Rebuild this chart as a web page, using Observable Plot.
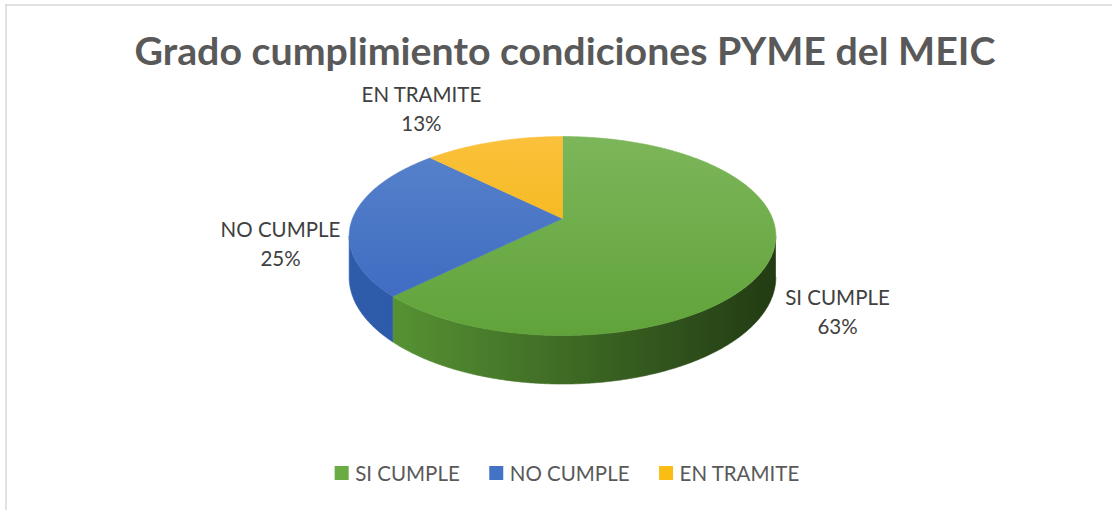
<!DOCTYPE html>
<html><head><meta charset="utf-8">
<script src="https://cdn.jsdelivr.net/npm/d3@7"></script>
<script src="https://cdn.jsdelivr.net/npm/@observablehq/plot@0.6"></script>
<style>body{margin:0;background:#fff}</style>
</head><body><div id="chart"></div>
<script>
// ---- data ----
const title = "Grado cumplimiento condiciones PYME del MEIC";
const categories = ["SI CUMPLE", "NO CUMPLE", "EN TRAMITE"];
const percentages = [62.5, 25, 12.5];

// ---- style / layout (kept apart from data) ----
const W = 1112, H = 510;
const FONT = "Lato, Carlito, Calibri, 'Open Sans', sans-serif";
const topColors = [["#7cb65a", "#61a33a"], ["#5883cb", "#3a67c0"], ["#fbc13c", "#eeb200"]];
const sideColors = [["#5c9c37", "#223b13"], ["#2e5cab", "#28509c"], ["#c99400", "#a67a00"]];
const legendColors = ["#6aab44", "#4472c4", "#fbbd14"];
const geo = {cx: 562, cy: 218, A: 210, B: 96.4, k: 0.176, D: 40};
// label offsets relative to the slice's mid-angle anchor on the rim
const labelOffsets = [[67, 26], [-72, 18], [-72, -40]];
const labelLineGap = 29;
const titleWidth = 861;

// ---- geometry from data ----
function P(t, z = 0) {
  const u = Math.sin(t), v = -Math.cos(t), s = 1 / (1 - geo.k * v);
  return [geo.cx + geo.A * u * s, geo.cy + geo.B * v * s + z * s];
}
function arc(t0, t1, z) {
  const n = Math.max(2, Math.ceil((t1 - t0) / (Math.PI / 360)));
  return d3.range(n + 1).map(j => P(t0 + (t1 - t0) * j / n, z));
}
const total = d3.sum(percentages);
let acc = 0;
const slices = categories.map((c, i) => {
  const t0 = acc / total * 2 * Math.PI; acc += percentages[i];
  const t1 = acc / total * 2 * Math.PI;
  return {c, i, t0, t1, pct: Math.round(percentages[i] / total * 100) + "%"};
});
const tL = Math.acos(-geo.k), tR = 2 * Math.PI - tL;
const tops = slices.map(s => ({...s, pts: [[geo.cx, geo.cy], ...arc(s.t0, s.t1, 0), [geo.cx, geo.cy]]}));
const sides = slices.map(s => {
  const a = Math.max(s.t0, tL), b = Math.min(s.t1, tR);
  if (a >= b) return null;
  return {...s, pts: [...arc(a, b, 0), ...arc(a, b, geo.D).reverse()]};
}).filter(Boolean);
const shadow = arc(0, 2 * Math.PI, geo.D);

const yTop = P(0)[1], yBot = P(Math.PI)[1];
const xLeft = geo.cx - geo.A * 1.0157, xRight = geo.cx + geo.A * 1.0157;

// labels
const labelData = [];
slices.forEach((s, i) => {
  const mid = (s.t0 + s.t1) / 2;
  const z = (mid > tL && mid < tR) ? geo.D / 2 : 0;
  const [ax, ay] = P(mid, z);
  const x = ax + labelOffsets[i][0], y = ay + labelOffsets[i][1];
  labelData.push({x, y, text: s.c});
  labelData.push({x, y: y + labelLineGap, text: s.pct});
});

// legend layout
const legFont = 20.5;
const ctx = document.createElement("canvas").getContext("2d");
ctx.font = legFont + "px " + FONT;
const sq = 14, gapText = 6, gapItem = 30;
const widths = categories.map(c => sq + gapText + ctx.measureText(c).width);
const legW = d3.sum(widths) + gapItem * (categories.length - 1);
let lx = 567 - legW / 2;
const legend = categories.map((c, i) => {
  const item = {c, i, x: lx}; lx += widths[i] + gapItem; return item;
});
const legBase = 480;

const xy = {x: d => d[0], y: d => d[1]};
const marks = [
  Plot.ruleY([4.5], {x1: 5, x2: W, stroke: "#d9d9d9", strokeWidth: 1.5}),
  Plot.ruleX([5.5], {y1: 4, y2: H, stroke: "#d9d9d9", strokeWidth: 1.5}),
  Plot.line(shadow, {...xy, fill: "#000", fillOpacity: 0.55, stroke: "none", dx: 1, dy: 3, ariaLabel: "shadow"}),
  ...sides.map(s => Plot.line(s.pts, {...xy, fill: `url(#side${s.i})`, stroke: `url(#side${s.i})`, strokeWidth: 0.6})),
  ...tops.map(s => Plot.line(s.pts, {...xy, fill: `url(#top${s.i})`, stroke: `url(#top${s.i})`, strokeWidth: 0.6})),
  Plot.text([title], {x: () => 564.5, y: () => 64.3, text: d => d, fontSize: 38, fontWeight: "bold", fontFamily: FONT, fill: "#595959", textAnchor: "middle", lineAnchor: "bottom"}),
  Plot.text(labelData, {x: "x", y: "y", text: "text", fontSize: 20.5, fontFamily: FONT, fill: "#404040", textAnchor: "middle", lineAnchor: "bottom"}),
  Plot.rect(legend, {x1: d => d.x, x2: d => d.x + sq, y1: legBase - sq, y2: legBase, fill: d => legendColors[d.i]}),
  Plot.text(legend, {x: d => d.x + sq + gapText, y: () => legBase, text: "c", fontSize: legFont, fontFamily: FONT, fill: "#595959", textAnchor: "start", lineAnchor: "bottom"})
];

const svg = Plot.plot({
  width: W, height: H, margin: 0,
  x: {domain: [0, W], range: [0, W], axis: null},
  y: {domain: [0, H], range: [0, H], axis: null},
  style: {background: "#fff", overflow: "visible"},
  marks
});

const defs = d3.select(svg).insert("defs", ":first-child");
topColors.forEach((c, i) => {
  const g = defs.append("linearGradient").attr("id", "top" + i).attr("gradientUnits", "userSpaceOnUse")
    .attr("x1", 0).attr("y1", yTop).attr("x2", 0).attr("y2", yBot);
  g.append("stop").attr("offset", 0).attr("stop-color", c[0]);
  g.append("stop").attr("offset", 1).attr("stop-color", c[1]);
});
sideColors.forEach((c, i) => {
  const g = defs.append("linearGradient").attr("id", "side" + i).attr("gradientUnits", "userSpaceOnUse")
    .attr("x1", xLeft).attr("y1", 0).attr("x2", xRight).attr("y2", 0);
  g.append("stop").attr("offset", 0).attr("stop-color", c[0]);
  g.append("stop").attr("offset", 1).attr("stop-color", c[1]);
});
defs.append("filter").attr("id", "blur").attr("x", "-10%").attr("y", "-20%").attr("width", "120%").attr("height", "140%")
  .append("feGaussianBlur").attr("stdDeviation", 3);
d3.select(svg).selectAll('g[aria-label="line"]').filter((d, i) => i === 0).attr("filter", "url(#blur)");
d3.select(svg).selectAll("text").filter(function() { return this.textContent === title; })
  .attr("textLength", titleWidth).attr("lengthAdjust", "spacingAndGlyphs");

document.getElementById("chart").appendChild(svg);
</script>
</body></html>
